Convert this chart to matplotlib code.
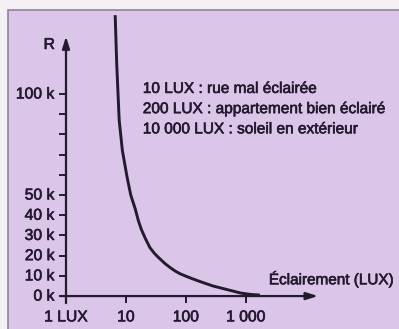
"""
Résistance d'une photorésistance en fonction de l'éclairement.
"""

import numpy as np
import matplotlib.pyplot as plt
import matplotlib.patheffects as pe
from matplotlib.patches import Rectangle


# =====================================================
# Data
# =====================================================

LUX = [6.6, 7.0, 7.7, 8.7, 10.4, 12, 14.3, 16, 18, 21, 25, 30, 35,
       45, 55, 65, 80, 117, 150, 200, 280, 380, 600, 810, 1200, 1700]

R_K = [139, 115, 87, 72, 59, 50, 43, 37.5, 33, 28.5, 24, 21, 19,
       16, 14, 12.5, 11, 9, 7.8, 6.5, 5, 4, 2.5, 1.5, 0.8, 0.5]

Y_TICKS = [0, 10, 20, 30, 40, 50, 60, 70, 80, 90, 100]
Y_LABELED = [0, 10, 20, 30, 40, 50, 100]

X_TICKS = [1, 10, 100, 1000]
X_LABELS = ["1 LUX", "10", "100", "1 000"]

NOTES = [
    "10 LUX : rue mal éclairée",
    "200 LUX : appartement bien éclairé",
    "10 000 LUX : soleil en extérieur",
]


# =====================================================
# Style
# =====================================================

PANEL = "#dbc5e9"
PAGE = "#f4f1f4"
BORDER = "#8e8496"
INK = "#241a30"

plt.rcParams["font.family"] = ["Liberation Sans", "DejaVu Sans"]

# slightly heavier lettering
HEAVY = [pe.withStroke(linewidth=0.45, foreground=INK)]


# =====================================================
# Plot
# =====================================================

def plot_curve():

    fig = plt.figure(
        figsize=(3.99, 3.29),
        dpi=100
    )
    fig.patch.set_facecolor(PAGE)

    # lavender card with a thin border, kept behind the axes
    fig.patches.append(
        Rectangle(
            (8 / 399, -0.01), 1.0, (329 - 10) / 329 + 0.01,
            transform=fig.transFigure,
            facecolor=PANEL,
            edgecolor=BORDER,
            linewidth=1.2,
            zorder=-5
        )
    )

    ax = fig.add_axes([0, 0, 1, 1])
    ax.patch.set_alpha(0)
    ax.set_xscale("log")
    ax.set_xlim(10 ** -1.1, 10 ** 5.55)
    ax.set_ylim(-16.3, 146.5)
    ax.axis("off")

    # axes with arrows
    arrow = dict(
        arrowstyle="-|>,head_length=0.7,head_width=0.22",
        color=INK,
        lw=1.6,
        shrinkA=0,
        shrinkB=0
    )
    ax.annotate("", xy=(1, 128.5), xytext=(1, -3.5), arrowprops=arrow)
    ax.annotate("", xy=(10 ** 4.2, 0), xytext=(10 ** -0.1, 0),
                arrowprops=arrow)

    text_kw = dict(color=INK, path_effects=HEAVY)

    # y ticks on the left of the axis
    for v in Y_TICKS:
        ax.plot([10 ** -0.1, 1], [v, v], color=INK, lw=1.4)

    for v in Y_LABELED:
        ax.text(10 ** -0.19, v, f"{v} k", ha="right", va="center",
                fontsize=11.3, **text_kw)

    # x ticks below the axis
    for v, lab in zip(X_TICKS, X_LABELS):
        ax.plot([v, v], [0, -2.7], color=INK, lw=1.4)
        ax.text(v, -10.3, lab, ha="center", va="center",
                fontsize=11.3, **text_kw)

    ax.plot(LUX, R_K, color=INK, lw=2.1, solid_capstyle="butt",
            solid_joinstyle="round", clip_on=True)

    ax.text(10 ** -0.28, 124.5, "R", ha="center", va="center",
            fontsize=11.3, **text_kw)
    ax.text(10 ** 5.46, 8.3, "Éclairement (LUX)", ha="right",
            va="center", fontsize=11, **text_kw)

    for i, note in enumerate(NOTES):
        ax.text(10 ** 1.28, 102.5 - i * 10, note, ha="left",
                va="center", fontsize=11.1, **text_kw)

    fig.savefig("out.png", dpi=100, facecolor=PAGE)
    plt.close(fig)


# =====================================================
# Main
# =====================================================

if __name__ == "__main__":

    plot_curve()
